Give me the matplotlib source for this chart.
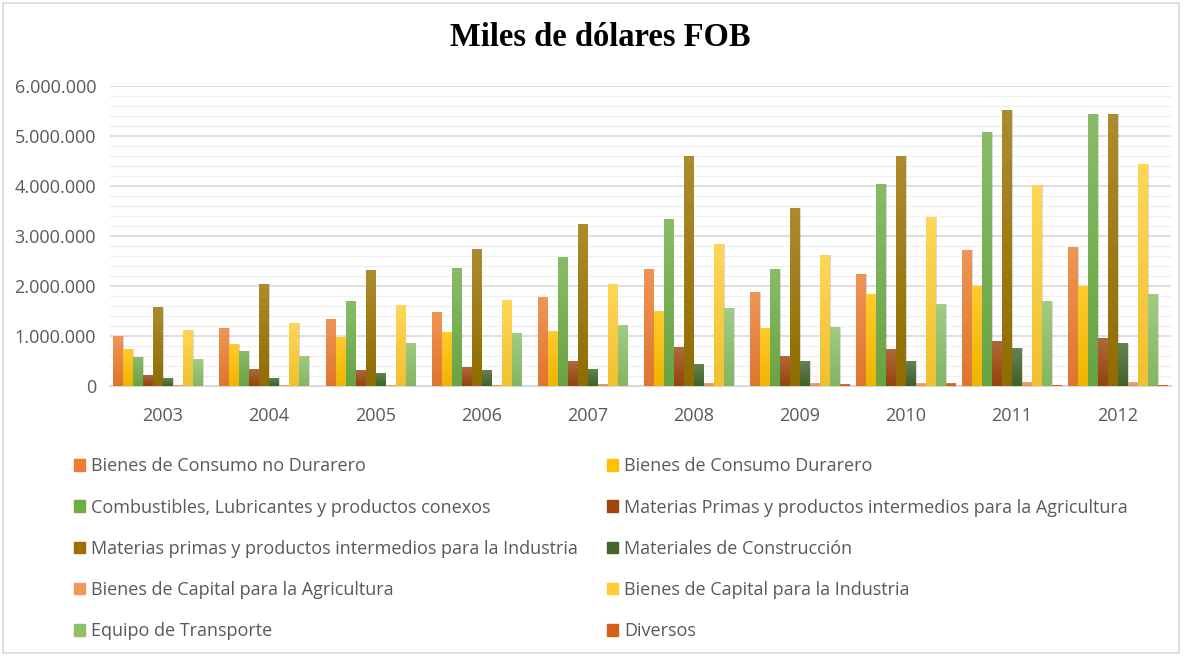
import numpy as np
import matplotlib
matplotlib.use("Agg")
from matplotlib import pyplot as plt
from matplotlib import colors as mcolors
from matplotlib.patches import Rectangle, Patch
from matplotlib.ticker import FuncFormatter, MultipleLocator

years = ["2003", "2004", "2005", "2006", "2007", "2008", "2009", "2010", "2011", "2012"]

series_names = [
    "Bienes de Consumo no Durarero",
    "Bienes de Consumo Durarero",
    "Combustibles, Lubricantes y productos conexos",
    "Materias Primas y productos intermedios para la Agricultura",
    "Materias primas y productos intermedios para la Industria",
    "Materiales de Construcción",
    "Bienes de Capital para la Agricultura",
    "Bienes de Capital para la Industria",
    "Equipo de Transporte",
    "Diversos",
]

consumo_no_durable = [1000000, 1167000, 1346000, 1480000, 1780000, 2340000, 1880000, 2245000, 2713000, 2780000]
consumo_durable = [740000, 850000, 990000, 1080000, 1100000, 1500000, 1170000, 1845000, 2006000, 2006000]
combustibles = [580000, 710000, 1710000, 2370000, 2580000, 3350000, 2340000, 4046000, 5080000, 5433000]
mp_agricultura = [226000, 336000, 330000, 380000, 500000, 780000, 600000, 740000, 906000, 953000]
mp_industria = [1587000, 2044000, 2320000, 2746000, 3240000, 4600000, 3560000, 4606000, 5526000, 5433000]
construccion = [160000, 170000, 266000, 330000, 350000, 450000, 500000, 506000, 766000, 860000]
capital_agricultura = [20000, 20000, 20000, 20000, 50000, 70000, 70000, 60000, 86000, 86000]
capital_industria = [1120000, 1270000, 1613000, 1713000, 2040000, 2840000, 2626000, 3386000, 4020000, 4446000]
transporte = [533000, 610000, 866000, 1060000, 1220000, 1570000, 1190000, 1634000, 1706000, 1846000]
diversos = [5000, 5000, 5000, 5000, 5000, 5000, 50000, 60000, 26000, 26000]

series = [consumo_no_durable, consumo_durable, combustibles, mp_agricultura, mp_industria,
          construccion, capital_agricultura, capital_industria, transporte, diversos]

bar_colors = ["#ED7D31", "#FFC000", "#70AD47", "#9E480E", "#997300",
              "#43682B", "#F1975A", "#FFCD33", "#8CC168", "#D6601A"]


def lighten(c, amt):
    r, g, b = mcolors.to_rgb(c)
    return (r + (1 - r) * amt, g + (1 - g) * amt, b + (1 - b) * amt)


def darken(c, amt):
    r, g, b = mcolors.to_rgb(c)
    return (r * (1 - amt), g * (1 - amt), b * (1 - amt))


fig = plt.figure(figsize=(11.83, 6.57), dpi=100)
ax = fig.add_axes([110 / 1183, 1 - 386 / 657, (1171 - 110) / 1183, 300 / 657])

x = np.arange(len(years))
slot = 0.0943
width = 0.088
grad = np.linspace(1, 0, 64).reshape(-1, 1)

for i, (vals, col) in enumerate(zip(series, bar_colors)):
    xs = x + (i - 4.5) * slot
    bars = ax.bar(xs, vals, width=width, color=col, zorder=3)
    cmap = mcolors.LinearSegmentedColormap.from_list(
        "g%d" % i, [darken(col, 0.06), lighten(col, 0.18)])
    for b in bars:
        bx, by = b.get_x(), b.get_y()
        bw, bh = b.get_width(), b.get_height()
        # soft shadow
        ax.add_patch(Rectangle((bx + 0.012, by), bw, bh, color="#000000",
                               alpha=0.14, lw=0, zorder=2))
        im = ax.imshow(grad, extent=(bx, bx + bw, by, by + bh), cmap=cmap,
                       aspect="auto", origin="upper", zorder=3.5)
        im.set_clip_path(b)

ax.set_xlim(-0.5, len(years) - 0.5)
ax.set_ylim(0, 6000000)
ax.yaxis.set_major_locator(MultipleLocator(1000000))
ax.yaxis.set_minor_locator(MultipleLocator(200000))
ax.yaxis.set_major_formatter(FuncFormatter(lambda v, p: "{:,.0f}".format(v).replace(",", ".")))
ax.grid(axis="y", which="major", color="#D9D9D9", lw=1.2, zorder=0)
ax.grid(axis="y", which="minor", color="#F0F0F0", lw=1.0, zorder=0)
ax.set_xticks(x)
ax.set_xticklabels(years)
ax.tick_params(axis="both", which="both", length=0, labelsize=13, labelcolor="#595959")
ax.tick_params(axis="y", pad=10)
ax.tick_params(axis="x", pad=15)
for lab in ax.get_xticklabels() + ax.get_yticklabels():
    lab.set_fontfamily("Open Sans")
for s in ["top", "right", "left"]:
    ax.spines[s].set_visible(False)
ax.spines["bottom"].set_color("#D9D9D9")
ax.spines["bottom"].set_linewidth(1.5)

fig.text(600 / 1183, 1 - 38 / 657, "Miles de dólares FOB", ha="center", va="center",
         fontsize=23.5, fontweight="bold", family="Liberation Serif")

order = [0, 2, 4, 6, 8, 1, 3, 5, 7, 9]
handles = [Patch(color=bar_colors[k]) for k in order]
labels = [series_names[k] for k in order]
fig.legend(handles, labels, ncol=2, loc="upper left",
           bbox_to_anchor=(58 / 1183, 1 - 441 / 657), frameon=False,
           prop={"family": "Open Sans", "size": 13}, labelcolor="#595959",
           handlelength=0.6, handleheight=0.6, handletextpad=0.35,
           labelspacing=1.29, columnspacing=1.6)

fig.patches.append(Rectangle((3 / 1183, 4 / 657), 1176 / 1183, 650 / 657,
                             transform=fig.transFigure, fill=False,
                             edgecolor="#D9D9D9", lw=1.2))

fig.savefig("out.png", dpi=100)
